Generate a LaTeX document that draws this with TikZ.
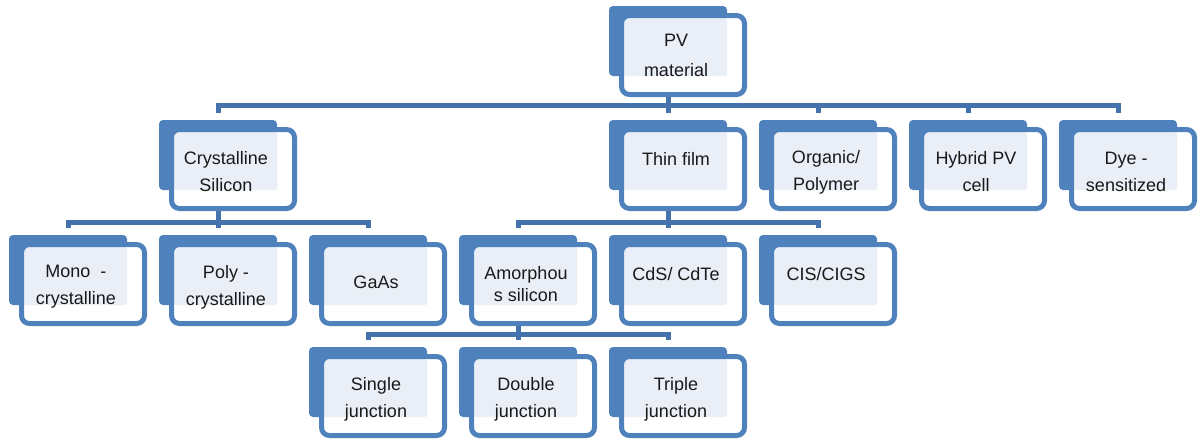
\documentclass[tikz,border=0pt]{standalone}
\usepackage{fontspec}
\setmainfont{Liberation Sans}
\definecolor{pvblue}{RGB}{79,129,189}
\definecolor{pvline}{RGB}{68,114,172}
\definecolor{pvlight}{RGB}{234,239,247}
\begin{document}
\begin{tikzpicture}[x=1pt,y=-1pt,
                      back node/.style={rectangle,rounded corners=4pt,fill=pvblue,
                      minimum width=118pt,minimum height=70pt,inner sep=0pt},
                      main node/.style={rectangle,rounded corners=8pt,draw=pvblue,
                      line width=5pt,fill=white,minimum width=123pt,minimum height=79pt,
                      inner sep=0pt,
                      path picture={\fill[pvlight,rounded corners=2pt]
                        ([shift={(2.5,2.5)}]path picture bounding box.north west)
                        rectangle ++(103,58);}},
                      pv text/.style={align=center,text=black!90,inner sep=0pt,
                      font=\fontsize{18}{27}\selectfont,xshift=-7pt,yshift=-3pt},
                      tag/.style={label={[pv text]center:{#1}}},
                      link/.style={draw=pvline,line width=5pt}
                     ]
   \useasboundingbox (0,0) rectangle (1201,439);
   % top
   \node[back node] (pv-b) at (668,41) {};
   \node[main node,label={[pv text,yshift=3pt]center:{PV\\[3pt]material}}] (pv) at (683,55) {};
   % first row
   \node[back node] (cs-b) at (218,155) {};
   \node[main node,tag={Crystalline\\Silicon}] (cs) at (233,169) {};
   \node[back node] (tf-b) at (668,155) {};
   \node[main node,tag={Thin film\\\mbox{}}] (tf) at (683,169) {};
   \node[back node] (op-b) at (818,155) {};
   \node[main node,tag={Organic/\\Polymer}] (op) at (833,169) {};
   \node[back node] (hy-b) at (968,155) {};
   \node[main node,tag={Hybrid PV\\cell}] (hy) at (983,169) {};
   \node[back node] (ds-b) at (1118,155) {};
   \node[main node,tag={Dye -\\sensitized}] (ds) at (1133,169) {};
   % second row
   \node[back node] (mono-b) at (68,270) {};
   \node[main node,tag={Mono\ \ -\\crystalline}] (mono) at (83,284) {};
   \node[back node] (poly-b) at (218,270) {};
   \node[main node,tag={Poly -\\crystalline}] (poly) at (233,284) {};
   \node[back node] (gaas-b) at (368,270) {};
   \node[main node,label={[pv text,yshift=5pt]center:GaAs}] (gaas) at (383,284) {};
   \node[back node] (am-b) at (518,270) {};
   \node[main node,label={[pv text,yshift=3pt]center:{Amorphou\\[-5pt]s silicon}}] (am) at (533,284) {};
   \node[back node] (cdte-b) at (668,270) {};
   \node[main node,tag={CdS/ CdTe\\\mbox{}}] (cdte) at (683,284) {};
   \node[back node] (cigs-b) at (818,270) {};
   \node[main node,tag={CIS/CIGS\\\mbox{}}] (cigs) at (833,284) {};
   % third row
   \node[back node] (sj-b) at (368,382) {};
   \node[main node,tag={Single\\junction}] (sj) at (383,396) {};
   \node[back node] (dj-b) at (518,382) {};
   \node[main node,tag={Double\\junction}] (dj) at (533,396) {};
   \node[back node] (tj-b) at (668,382) {};
   \node[main node,tag={Triple\\junction}] (tj) at (683,396) {};
   % tree lines
   \foreach \c in {cs,tf,op,hy,ds}
     \draw[link] (pv-b.south |- pv.south) -- ++(0,8) -| ([yshift=7pt]\c-b.north);
   \foreach \c in {mono,poly,gaas}
     \draw[link] (cs-b.south |- cs.south) -- ++(0,11) -| ([yshift=7pt]\c-b.north);
   \foreach \c in {am,cdte,cigs}
     \draw[link] (tf-b.south |- tf.south) -- ++(0,11) -| ([yshift=7pt]\c-b.north);
   \foreach \c in {sj,dj,tj}
     \draw[link] (am-b.south |- am.south) -- ++(0,8) -| ([yshift=7pt]\c-b.north);
\end{tikzpicture}
\end{document}
